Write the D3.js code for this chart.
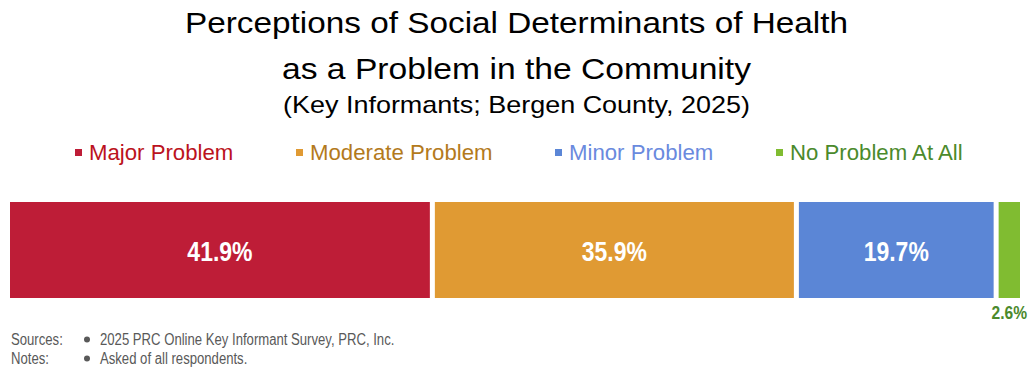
<!DOCTYPE html>
<html><head><meta charset="utf-8">
<script src="https://cdn.jsdelivr.net/npm/d3@7"></script>
<style>body{margin:0;background:#fff}svg{display:block}text{font-family:"Liberation Sans",Arial,sans-serif}.narrow{font-family:"Liberation Sans Narrow","Arial Narrow","Liberation Sans",Arial,sans-serif}</style>
</head><body>
<svg id="c" width="1033" height="369"></svg>
<script>
const categories = ["Major Problem","Moderate Problem","Minor Problem","No Problem At All"];
const values = [41.9, 35.9, 19.7, 2.6];
const barColors = ["#be1d37","#e09a33","#5b86d6","#80bc31"];
const textColors = ["#bb1220","#b37a1c","#6a8ade","#4b8a2c"];
const titleLines = ["Perceptions of Social Determinants of Health","as a Problem in the Community","(Key Informants; Bergen County, 2025)"];
const notes = [["Sources:","2025 PRC Online Key Informant Survey, PRC, Inc."],["Notes:","Asked of all respondents."]];

const svg = d3.select("#c");
const tSize = [29, 29, 24], tBase = [33, 79, 113], tLen = [663, 469, 467];
svg.selectAll("text.title").data(titleLines).join("text").attr("class","title")
  .attr("x", 516.5).attr("y",(d,i)=>tBase[i]).attr("text-anchor","middle")
  .attr("font-size",(d,i)=>tSize[i]).attr("textLength",(d,i)=>tLen[i])
  .attr("lengthAdjust","spacingAndGlyphs").attr("fill","#000").text(d=>d);

// legend
const legX = [75, 296, 555, 776];
const lg = svg.selectAll("g.leg").data(categories).join("g").attr("class","leg")
  .attr("transform",(d,i)=>`translate(${legX[i]},160)`);
lg.append("rect").attr("x",0).attr("y",-11).attr("width",7).attr("height",7).attr("fill",(d,i)=>barColors[i]);
lg.append("text").attr("x",14).attr("y",0).attr("font-size",22.2).attr("fill",(d,i)=>textColors[i]).text(d=>d);

// bars
const total = d3.sum(values);
const x = d3.scaleLinear().domain([0,total]).range([7.5,1022.5]);
const gap = 5;
let cum = 0;
const segs = values.map((v,i)=>{const s={v,i,x0:cum,x1:cum+v};cum+=v;return s;});
const y0 = 202, h = 96;
svg.selectAll("rect.bar").data(segs).join("rect").attr("class","bar")
  .attr("x",d=>x(d.x0)+gap/2).attr("width",d=>x(d.x1)-x(d.x0)-gap)
  .attr("y",y0).attr("height",h).attr("fill",d=>barColors[d.i]);
svg.selectAll("text.val").data(segs).join("text").attr("class","val narrow")
  .attr("x",d=>d.v<5 ? x(d.x1)-gap/2+7 : (x(d.x0)+x(d.x1))/2)
  .attr("y",d=>d.v<5? 319 : 261)
  .attr("text-anchor",d=>d.v<5?"end":"middle")
  .attr("font-weight","bold")
  .attr("font-size",d=>d.v<5?19:28)
  .attr("fill",d=>d.v<5?"#4b8a2c":"#fff")
  .text(d=>d.v.toFixed(1)+"%");

// notes
const ng = svg.selectAll("g.note").data(notes).join("g").attr("class","note")
  .attr("transform",(d,i)=>`translate(0,${345+i*19})`);
ng.append("text").attr("class","narrow").attr("x",11).attr("font-size",16).attr("fill","#595959").text(d=>d[0]);
ng.append("circle").attr("cx",87).attr("cy",-5.5).attr("r",3).attr("fill","#595959");
ng.append("text").attr("class","narrow").attr("x",100).attr("font-size",16).attr("fill","#595959").text(d=>d[1]);

// emulate a condensed face
svg.selectAll("text.narrow").each(function(){
  const w = this.getComputedTextLength();
  d3.select(this).attr("textLength", w*0.82).attr("lengthAdjust","spacingAndGlyphs");
});
</script>
</body></html>
